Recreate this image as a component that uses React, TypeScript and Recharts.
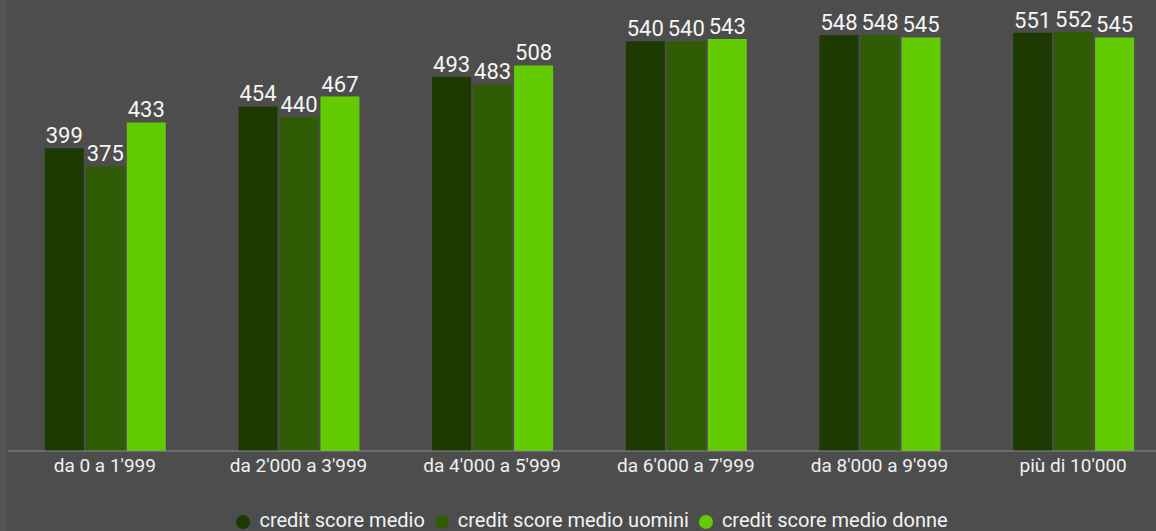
import React from "react";
import {
  BarChart,
  Bar,
  XAxis,
  YAxis,
  Legend,
  LabelList,
} from "recharts";

// fasce di reddito
const categories: string[] = [
  "da 0 a 1'999",
  "da 2'000 a 3'999",
  "da 4'000 a 5'999",
  "da 6'000 a 7'999",
  "da 8'000 a 9'999",
  "più di 10'000",
];

const seriesNames: string[] = [
  "credit score medio",
  "credit score medio uomini",
  "credit score medio donne",
];

const scoreMedio: number[] = [399, 454, 493, 540, 548, 551];
const scoreUomini: number[] = [375, 440, 483, 540, 548, 552];
const scoreDonne: number[] = [433, 467, 508, 543, 545, 545];

const data = categories.map((name, i) => ({
  name,
  medio: scoreMedio[i],
  uomini: scoreUomini[i],
  donne: scoreDonne[i],
}));

const FONT = "Roboto, 'Noto Sans', sans-serif";

const App: React.FC = () => {
  return (
    <div
      style={{
        position: "absolute",
        left: 0,
        top: 0,
        width: 1156,
        height: 531,
        overflow: "hidden",
        background: "#555555",
        fontFamily: FONT,
      }}
    >
      <div
        style={{
          position: "absolute",
          left: 6,
          top: 0,
          width: 1164,
          height: 531,
          background: "#4d4d4d",
        }}
      >
        <BarChart
          width={1164}
          height={531}
          data={data}
          margin={{ top: 26, right: 0, left: 2, bottom: 50 }}
          barGap={2}
          barCategoryGap="19%"
        >
          <XAxis
            dataKey="name"
            height={30}
            tickLine={false}
            stroke="#8a8a8a"
            fontSize={19}
            tick={{ fill: "#f0f0f0", fontSize: 19, fontFamily: FONT }}
          />
          <YAxis hide domain={[0, 560]} />
          <Legend
            verticalAlign="middle"
            align="center"
            layout="horizontal"
            iconType="circle"
            iconSize={14}
            itemSorter={(item: any) => seriesNames.indexOf(item.value)}
            wrapperStyle={{
              top: 508,
              paddingLeft: 8,
              fontSize: 20,
              fontFamily: FONT,
            }}
            formatter={(value: string) => (
              <span style={{ color: "#f2f2f2", fontSize: 20, paddingLeft: 5 }}>
                {value}
              </span>
            )}
          />
          <Bar
            dataKey="medio"
            name={seriesNames[0]}
            fill="#1d3a03"
            isAnimationActive={false}
          >
            <LabelList
              dataKey="medio"
              position="top"
              fill="#f5f5f5"
              fontSize={22}
              fontFamily={FONT}
            />
          </Bar>
          <Bar
            dataKey="uomini"
            name={seriesNames[1]}
            fill="#2f5c05"
            isAnimationActive={false}
          >
            <LabelList
              dataKey="uomini"
              position="top"
              fill="#f5f5f5"
              fontSize={22}
              fontFamily={FONT}
            />
          </Bar>
          <Bar
            dataKey="donne"
            name={seriesNames[2]}
            fill="#63cb02"
            isAnimationActive={false}
          >
            <LabelList
              dataKey="donne"
              position="top"
              fill="#f5f5f5"
              fontSize={22}
              fontFamily={FONT}
            />
          </Bar>
        </BarChart>
      </div>
    </div>
  );
};

export default App;
